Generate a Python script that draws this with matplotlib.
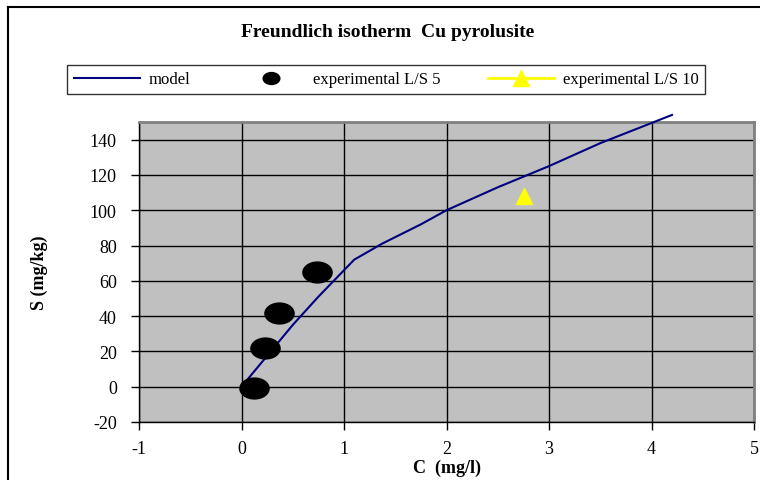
import matplotlib
matplotlib.use("Agg")
import matplotlib.pyplot as plt
from matplotlib.path import Path
from matplotlib.lines import Line2D

# model curve (Freundlich fit)
c_model = [0, 0.5, 0.75, 1.1, 1.37, 1.75, 2.0, 2.5, 3.0, 3.5, 4.2]
s_model = [0, 35, 51, 72, 81, 92, 100, 113, 125, 138, 154]

# experimental points
c_ls5 = [0.12, 0.23, 0.37, 0.74]
s_ls5 = [-1, 22, 42, 65]
c_ls10 = [2.76]
s_ls10 = [108]

xticks = [-1, 0, 1, 2, 3, 4, 5]
yticks = [-20, 0, 20, 40, 60, 80, 100, 120, 140]

plt.rcParams['font.family'] = ['Liberation Serif', 'DejaVu Serif']
plt.rcParams['axes.unicode_minus'] = False

fig = plt.figure(figsize=(7.6, 4.81), dpi=100)
ax = fig.add_axes([139/760, 1-423/481, 615/760, 300/481])
ax.set_facecolor("#C0C0C0")

# ellipse marker, wider than tall like the original
circ = Path.unit_circle()
ell = Path(circ.vertices * [1.4, 1.0], circ.codes)

ax.plot(c_model, s_model, color="#000080", lw=1.5, label="model", clip_on=False, zorder=3)
ax.plot(c_ls5, s_ls5, ls="none", marker=ell, ms=21, color="black",
        label="experimental L/S 5", zorder=4)
ax.plot(c_ls10, s_ls10, color="yellow", lw=2, marker="^", ms=12,
        label="experimental L/S 10", zorder=4)

ax.set_xlim(-1, 5)
ax.set_ylim(-20, 150)
ax.set_xticks(xticks)
ax.set_yticks(yticks)
ax.grid(True, color="black", lw=1)
ax.set_axisbelow(True)
ax.tick_params(direction="out", length=6, width=1, labelsize=13, color="black", pad=10)
ax.tick_params(axis="x", pad=7)

for s in ["top", "right"]:
    ax.spines[s].set_color("#808080")
    ax.spines[s].set_linewidth(2)
for s in ["left", "bottom"]:
    ax.spines[s].set_color("black")
    ax.spines[s].set_linewidth(1)

ax.set_xlabel("C  (mg/l)", fontsize=13, fontweight="bold", labelpad=1)
ax.set_ylabel("S (mg/kg)", fontsize=13, fontweight="bold", labelpad=30)

fig.text(388/760, 1-33/481, "Freundlich isotherm  Cu pyrolusite", ha="center", va="center",
         fontsize=14, fontweight="bold")

leg = fig.legend(loc="lower left", bbox_to_anchor=(67/760, 1-95/481, 638/760, 29/481),
                 mode="expand", ncol=3, frameon=True, fancybox=False, edgecolor="black",
                 fontsize=12, handlelength=4, borderaxespad=0, handletextpad=0.5,
                 borderpad=0.4)
leg.get_frame().set_linewidth(1)
leg.legend_handles[1].set_markersize(12)

# outer chart border
fig.add_artist(Line2D([8/760, 1], [1-8/481, 1-8/481], transform=fig.transFigure, color="black", lw=1.5))
fig.add_artist(Line2D([8/760, 8/760], [0, 1-8/481], transform=fig.transFigure, color="black", lw=1.5))

fig.savefig("out.png", dpi=100)
